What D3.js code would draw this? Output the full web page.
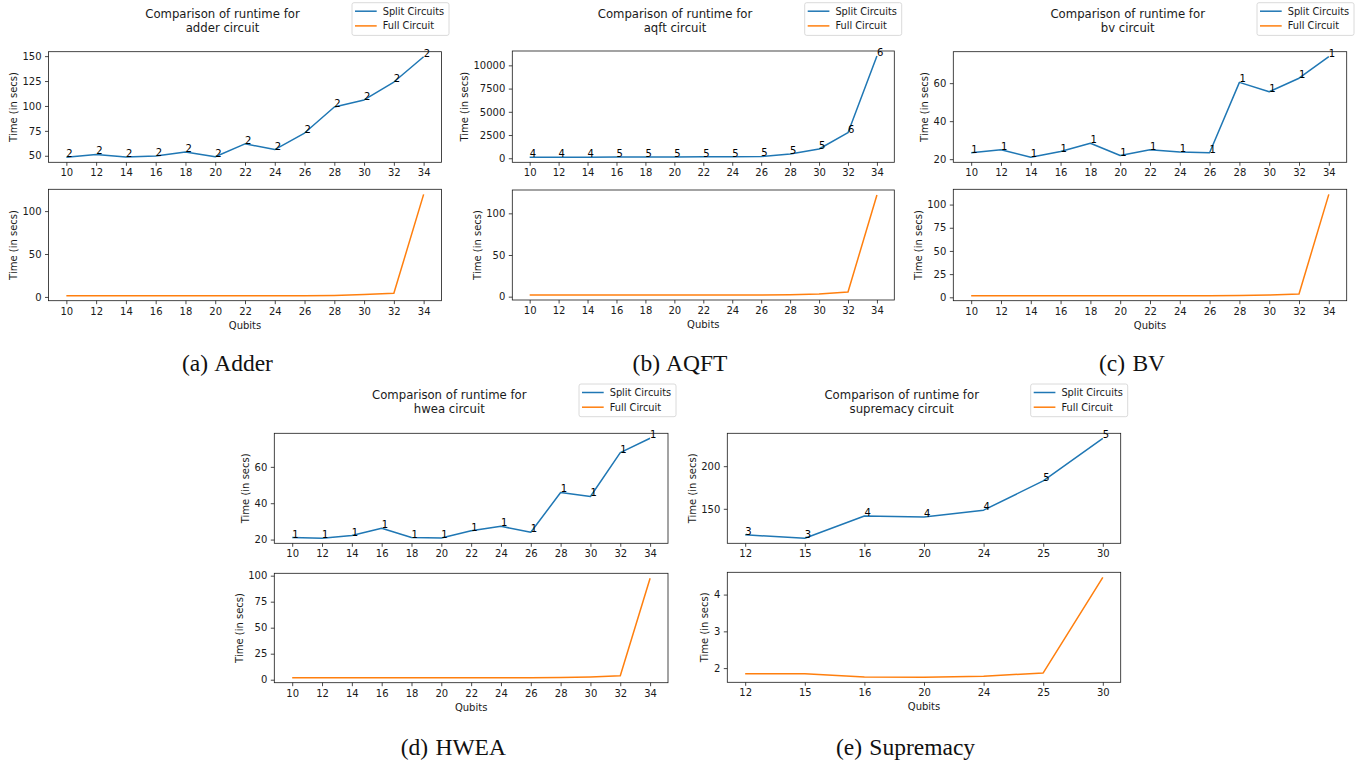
<!DOCTYPE html>
<html>
<head>
<meta charset="utf-8">
<script src="https://cdn.jsdelivr.net/npm/d3@7"></script>
<style>
    body { margin: 0; background: #fff; }
    svg text { font-family: "DejaVu Sans", sans-serif; fill: #1a1a1a; }
    .tick text { fill: #1a1a1a; }
    .tick line { stroke: #1a1a1a; stroke-width: 0.8; }
    text.caption { font-family: "Liberation Serif", serif; font-size: 23.5px; fill: #111; }
</style>
</head>
<body>
<svg id="chart" width="1370" height="766"></svg>
<script>
// qubit counts on the x axis
var qubits = [10, 12, 14, 16, 18, 20, 22, 24, 26, 28, 30, 32, 34];
var supQubits = [12, 15, 16, 20, 24, 25, 30];

// adder
var adderSplit = [48.5, 51.3, 48.7, 49.7, 53.9, 49, 62, 56.2, 72.8, 98.9, 106, 124, 149.4];
var adderFull = [1.5, 1.5, 1.5, 1.5, 1.5, 1.5, 1.5, 1.5, 1.5, 1.8, 2.8, 4.2, 119.5];
var adderParts = [2, 2, 2, 2, 2, 2, 2, 2, 2, 2, 2, 2, 2];
var adderSplitTicks = [50, 75, 100, 125, 150];
var adderFullTicks = [0, 50, 100];

// aqft
var aqftSplit = [110, 115, 120, 130, 135, 140, 150, 160, 190, 450, 1000, 2750, 11000];
var aqftFull = [2, 2, 2, 2, 2, 2, 2, 2, 2, 2.3, 3.2, 5.6, 122];
var aqftParts = [4, 4, 4, 5, 5, 5, 5, 5, 5, 5, 5, 6, 6];
var aqftSplitTicks = [0, 2500, 5000, 7500, 10000];
var aqftFullTicks = [0, 50, 100];

// bv
var bvSplit = [23.4, 25, 21, 24, 28.4, 21.9, 25, 23.8, 23.4, 60.4, 55.5, 62.6, 73.9];
var bvFull = [1.8, 1.8, 1.8, 1.8, 1.8, 1.8, 1.8, 1.8, 1.8, 2.0, 2.5, 3.6, 111];
var bvParts = [1, 1, 1, 1, 1, 1, 1, 1, 1, 1, 1, 1, 1];
var bvSplitTicks = [20, 40, 60];
var bvFullTicks = [0, 25, 50, 75, 100];

// hwea
var hweaSplit = [21.1, 20.7, 22.2, 26.2, 21.1, 20.9, 24.8, 27.3, 24, 45.9, 43.7, 67.8, 75.7];
var hweaFull = [1.9, 1.9, 1.9, 1.9, 1.9, 1.9, 1.9, 1.9, 1.9, 2.0, 2.6, 3.8, 97.5];
var hweaParts = [1, 1, 1, 1, 1, 1, 1, 1, 1, 1, 1, 1, 1];
var hweaSplitTicks = [20, 40, 60];
var hweaFullTicks = [0, 25, 50, 75, 100];

// supremacy
var supSplit = [119.5, 115.4, 141.5, 140.3, 148.4, 182.7, 232.7];
var supFull = [1.846, 1.846, 1.757, 1.75, 1.78, 1.87, 4.47];
var supParts = [3, 3, 4, 4, 4, 5, 5];
var supSplitTicks = [150, 200];
var supFullTicks = [2, 3, 4];

var panels = [
    {name: "adder", qubits: qubits, split: adderSplit, full: adderFull, parts: adderParts,
        splitTicks: adderSplitTicks, fullTicks: adderFullTicks, caption: "(a) Adder"},
    {name: "aqft", qubits: qubits, split: aqftSplit, full: aqftFull, parts: aqftParts,
        splitTicks: aqftSplitTicks, fullTicks: aqftFullTicks, caption: "(b) AQFT"},
    {name: "bv", qubits: qubits, split: bvSplit, full: bvFull, parts: bvParts,
        splitTicks: bvSplitTicks, fullTicks: bvFullTicks, caption: "(c) BV"},
    {name: "hwea", qubits: qubits, split: hweaSplit, full: hweaFull, parts: hweaParts,
        splitTicks: hweaSplitTicks, fullTicks: hweaFullTicks, caption: "(d) HWEA"},
    {name: "supremacy", qubits: supQubits, split: supSplit, full: supFull, parts: supParts,
        splitTicks: supSplitTicks, fullTicks: supFullTicks, caption: "(e) Supremacy", categorical: true}
];

// where each panel sits on the page
var layout = [
    {left: 48.5, right: 441.5, top1: 51.7, bot1: 162.3, top2: 189.3, bot2: 300.7,
        titleX: 222.5, titleY: 17.5, legendRight: 449, legendTop: 2.7, captionX: 227.5, captionY: 371},
    {left: 512.3, right: 894.3, top1: 51, bot1: 162.3, top2: 190, bot2: 300,
        titleX: 675, titleY: 17.5, legendRight: 901.7, legendTop: 2.7, captionX: 680, captionY: 371},
    {left: 953.3, right: 1346.7, top1: 51.7, bot1: 162.3, top2: 189.3, bot2: 300.7,
        titleX: 1127.7, titleY: 17.5, legendRight: 1354, legendTop: 2.7, captionX: 1132, captionY: 371},
    {left: 274.3, right: 668, top1: 433.3, bot1: 543.3, top2: 573.3, bot2: 682.7,
        titleX: 449.3, titleY: 399, legendRight: 676, legendTop: 384, captionX: 453.3, captionY: 754.5},
    {left: 727.3, right: 1120.7, top1: 433.3, bot1: 543.3, top2: 572.3, bot2: 682.3,
        titleX: 901.7, titleY: 399, legendRight: 1127.7, legendTop: 384, captionX: 905.5, captionY: 755}
];

var blue = "#1f77b4", orange = "#ff7f0e";
var svg = d3.select("#chart");

// matplotlib-style 5% margins
function padded(vals) {
    var e = d3.extent(vals), pad = (e[1] - e[0]) * 0.05;
    return [e[0] - pad, e[1] + pad];
}

function subplot(g, p, L, xv, xAxis, values, ticks, top, bottom, color, labels, isBottom) {
    var y = d3.scaleLinear().domain(padded(values)).range([bottom, top]);

    var line = d3.line()
        .x(function (d, i) { return xv(p.qubits[i]); })
        .y(function (d) { return y(d); });

    g.append("path")
        .datum(values)
        .attr("d", line)
        .attr("fill", "none")
        .attr("stroke", color)
        .attr("stroke-width", 1.5)
        .attr("stroke-linejoin", "round");

    if (labels) {
        g.selectAll(".part")
            .data(values)
            .enter()
            .append("text")
            .classed("part", true)
            .attr("x", function (d, i) { return xv(p.qubits[i]); })
            .attr("y", function (d) { return y(d); })
            .attr("font-size", 10)
            .style("fill", "#000")
            .text(function (d, i) { return labels[i]; });
    }

    g.append("rect")
        .attr("x", L.left)
        .attr("y", top)
        .attr("width", L.right - L.left)
        .attr("height", bottom - top)
        .attr("fill", "none")
        .attr("stroke", "#1a1a1a")
        .attr("stroke-width", 0.8);

    var ya = g.append("g")
        .attr("transform", "translate(" + L.left + ",0)")
        .call(d3.axisLeft(y).tickValues(ticks).tickFormat(d3.format("d"))
            .tickSize(3.5).tickPadding(3.5).tickSizeOuter(0));
    ya.select(".domain").remove();
    ya.attr("font-family", null).attr("font-size", 10);

    var xa = g.append("g")
        .attr("transform", "translate(0," + bottom + ")")
        .call(xAxis);
    xa.select(".domain").remove();
    xa.attr("font-family", null).attr("font-size", 10);

    // y label sits just left of the widest tick label
    var maxW = d3.max(ya.selectAll(".tick text").nodes(), function (n) {
        return n.getComputedTextLength();
    });
    g.append("text")
        .attr("transform", "translate(" + (L.left - 12.6 - maxW) + "," + (top + bottom) / 2 + ") rotate(-90)")
        .attr("text-anchor", "middle")
        .attr("font-size", 10)
        .text("Time (in secs)");

    if (isBottom) {
        g.append("text")
            .attr("x", (L.left + L.right) / 2)
            .attr("y", bottom + 28)
            .attr("text-anchor", "middle")
            .attr("font-size", 10)
            .text("Qubits");
    }
}

panels.forEach(function (p, i) {
    var L = layout[i];
    var g = svg.append("g").attr("class", "panel " + p.name);

    var x, xv, xAxis;
    if (p.categorical) {
        x = d3.scalePoint().domain(p.qubits.map(String)).range([L.left, L.right]).padding(0.3);
        xv = function (d) { return x(String(d)); };
        xAxis = function () {
            return d3.axisBottom(x).tickSize(3.5).tickPadding(3.5).tickSizeOuter(0);
        };
    } else {
        x = d3.scaleLinear().domain(padded(p.qubits)).range([L.left, L.right]);
        xv = x;
        xAxis = function () {
            return d3.axisBottom(x).tickValues(p.qubits).tickFormat(d3.format("d"))
                .tickSize(3.5).tickPadding(3.5).tickSizeOuter(0);
        };
    }

    subplot(g, p, L, xv, xAxis(), p.split, p.splitTicks, L.top1, L.bot1, blue, p.parts, false);
    subplot(g, p, L, xv, xAxis(), p.full, p.fullTicks, L.top2, L.bot2, orange, null, true);

    // title
    var title = g.append("text")
        .attr("text-anchor", "middle")
        .attr("font-size", 11.7);
    title.append("tspan").attr("x", L.titleX).attr("y", L.titleY).text("Comparison of runtime for");
    title.append("tspan").attr("x", L.titleX).attr("y", L.titleY + 14).text(p.name + " circuit");

    // legend
    var lw = 97, lh = 32.7, lx = L.legendRight - lw, ly = L.legendTop;
    var lg = g.append("g").attr("transform", "translate(" + lx + "," + ly + ")");
    lg.append("rect")
        .attr("width", lw)
        .attr("height", lh)
        .attr("rx", 2)
        .attr("fill", "#fff")
        .attr("stroke", "#d0d0d0")
        .attr("stroke-width", 0.8);
    [["Split Circuits", blue], ["Full Circuit", orange]].forEach(function (item, k) {
        var yy = 8.5 + k * 14.7;
        lg.append("line")
            .attr("x1", 3).attr("x2", 24.7)
            .attr("y1", yy).attr("y2", yy)
            .attr("stroke", item[1])
            .attr("stroke-width", 1.5);
        lg.append("text")
            .attr("x", 30.7)
            .attr("y", yy)
            .attr("dy", "0.35em")
            .attr("font-size", 9.8)
            .text(item[0]);
    });

    // subfigure caption
    g.append("text")
        .classed("caption", true)
        .attr("x", L.captionX)
        .attr("y", L.captionY)
        .attr("text-anchor", "middle")
        .attr("word-spacing", 1.5)
        .text(p.caption);
});
</script>
</body>
</html>
